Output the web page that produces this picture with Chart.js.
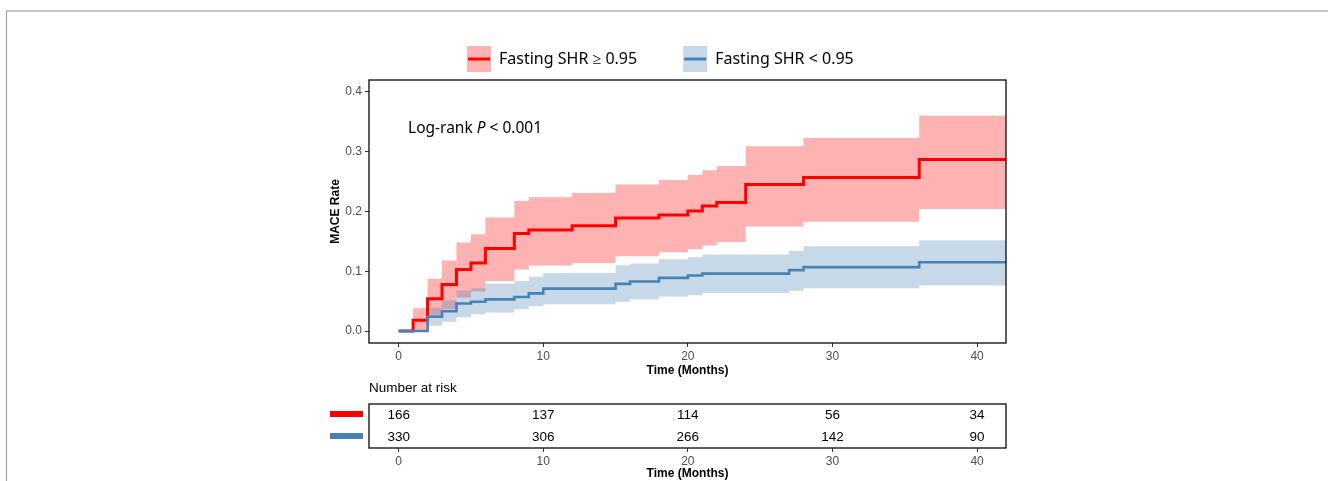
<!DOCTYPE html>
<html>
<head>
<meta charset="utf-8">
<script src="https://cdn.jsdelivr.net/npm/chart.js@4.4.1/dist/chart.umd.min.js"></script>
<style>
  html, body { margin: 0; padding: 0; background: #fff; }
  body { width: 1328px; height: 481px; position: relative; overflow: hidden; }
  #frame { position: absolute; left: 6px; top: 10px; width: 1400px; height: 600px;
           border-top: 2px solid #c6c6c6; border-left: 1px solid #999; }
  #main { position: absolute; left: 0; top: 0; }
  #risk { position: absolute; left: 0; top: 380px; }
</style>
</head>
<body>
<div id="frame"></div>
<canvas id="main" width="1328" height="390"></canvas>
<canvas id="risk" width="1328" height="101"></canvas>
<script>
// cumulative MACE rate, step values start at each time
const redTimes  = [0, 1, 2, 3, 4, 5, 6, 8, 9, 12, 15, 18, 20, 21, 22, 24, 28, 36, 42]
const redRate   = [0, 0.018, 0.054, 0.078, 0.103, 0.114, 0.138, 0.163, 0.169, 0.176, 0.189, 0.194, 0.201, 0.209, 0.215, 0.245, 0.257, 0.287, 0.287]
const redUpper  = [0, 0.038, 0.0875, 0.118, 0.148, 0.162, 0.19, 0.2176, 0.224, 0.231, 0.245, 0.2525, 0.261, 0.269, 0.276, 0.309, 0.323, 0.36, 0.36]
const redLower  = [0, 0, 0.023, 0.0365, 0.056, 0.066, 0.0836, 0.103, 0.1096, 0.114, 0.125, 0.132, 0.137, 0.143, 0.149, 0.175, 0.183, 0.204, 0.204]

const blueTimes = [0, 2, 3, 4, 5, 6, 8, 9, 10, 15, 16, 18, 20, 21, 27, 28, 36, 42]
const blueRate  = [0, 0.024, 0.033, 0.046, 0.049, 0.053, 0.057, 0.063, 0.071, 0.079, 0.083, 0.089, 0.093, 0.096, 0.102, 0.107, 0.115, 0.115]
const blueUpper = [0, 0.039, 0.0515, 0.068, 0.0714, 0.079, 0.0836, 0.091, 0.097, 0.11, 0.113, 0.12, 0.1235, 0.128, 0.1345, 0.142, 0.152, 0.152]
const blueLower = [0, 0.009, 0.0155, 0.023, 0.028, 0.031, 0.0365, 0.042, 0.045, 0.049, 0.053, 0.0576, 0.06, 0.0636, 0.0676, 0.0714, 0.0764, 0.0764]

const xTicks = [0, 10, 20, 30, 40]
const xTickLabels = ["0", "10", "20", "30", "40"]
const yTicks = [0, 0.1, 0.2, 0.3, 0.4]
const yTickLabels = ["0.0", "0.1", "0.2", "0.3", "0.4"]

const riskTimes = [0, 10, 20, 30, 40]
const riskRed  = [166, 137, 114, 56, 34]
const riskBlue = [330, 306, 266, 142, 90]

const groupLabels = ["Fasting SHR \u2265 0.95", "Fasting SHR < 0.95"]
const RED = "#ff0000"
const BLUE = "#4682b4"
const RED_BAND = "rgba(255,0,0,0.3)"
const BLUE_BAND = "rgba(70,130,180,0.3)"
const TICK_FONT = { family: "Liberation Sans", size: 12 }
const TITLE_FONT = { family: "Liberation Sans", size: 12, weight: "bold" }

const pts = (xs, ys) => xs.map((x, i) => ({ x: x, y: ys[i] }))

// "before" in Chart.js = horizontal first, then the jump at the next time
const stepLine = (label, data, color, width) => ({
  label: label, data: data, borderColor: color, borderWidth: width,
  stepped: "before", pointRadius: 0, fill: false
})
const bandEdge = (data, fillTo, bg) => ({
  data: data, borderWidth: 0, borderColor: "transparent", backgroundColor: bg,
  stepped: "before", pointRadius: 0, fill: fillTo
})

const xScale = (height, titlePad) => ({
  type: "linear", min: -2.05, max: 42,
  afterBuildTicks: (s) => { s.ticks = xTicks.map(v => ({ value: v })) },
  afterFit: (s) => { s.height = height },
  grid: { display: true, drawOnChartArea: false, drawTicks: true, tickLength: 4, tickColor: "#333", lineWidth: 1 },
  border: { display: false },
  ticks: { color: "#4d4d4d", font: TICK_FONT, padding: 2, maxRotation: 0,
           callback: (v) => xTickLabels[xTicks.indexOf(v)] },
  title: { display: true, text: "Time (Months)", color: "#000", font: TITLE_FONT, padding: { top: 0, bottom: titlePad } }
})

const boxPlugin = {
  id: "box",
  afterDatasetsDraw(chart) {
    const { ctx, chartArea: a } = chart
    ctx.save()
    ctx.strokeStyle = "#1a1a1a"
    ctx.lineWidth = 1.4
    ctx.strokeRect(a.left, a.top, a.right - a.left, a.bottom - a.top)
    ctx.restore()
  }
}

const annotationPlugin = {
  id: "annot",
  afterDatasetsDraw(chart) {
    const { ctx } = chart
    const x = chart.scales.x.getPixelForValue(0.65)
    const y = chart.scales.y.getPixelForValue(0.339)
    ctx.save()
    ctx.fillStyle = "#000"
    ctx.textBaseline = "middle"
    ctx.font = "15.5px 'Noto Sans'"
    let cx = x
    ctx.fillText("Log-rank ", cx, y)
    cx += ctx.measureText("Log-rank ").width
    ctx.font = "italic 15.5px 'Noto Sans'"
    ctx.fillText("P", cx, y)
    cx += ctx.measureText("P").width
    ctx.font = "15.5px 'Noto Sans'"
    ctx.fillText(" < 0.001", cx, y)
    ctx.restore()
  }
}

const legendPlugin = {
  id: "kmLegend",
  afterDraw(chart) {
    const { ctx } = chart
    const colors = [[RED_BAND, RED], [BLUE_BAND, BLUE]]
    let x = 467
    const top = 46, h = 26, w = 24
    ctx.save()
    ctx.font = "16px 'Noto Sans'"
    ctx.textBaseline = "middle"
    groupLabels.forEach((label, i) => {
      ctx.fillStyle = colors[i][0]
      ctx.fillRect(x, top, w, h)
      ctx.strokeStyle = colors[i][1]
      ctx.lineWidth = 3
      ctx.beginPath()
      ctx.moveTo(x + 1, top + h / 2)
      ctx.lineTo(x + w - 1, top + h / 2)
      ctx.stroke()
      ctx.fillStyle = "#000"
      ctx.fillText(label, x + w + 8, top + h / 2)
      x += w + 8 + ctx.measureText(label).width + 46
    })
    ctx.restore()
  }
}

new Chart(document.getElementById("main"), {
  type: "line",
  data: {
    datasets: [
      stepLine(groupLabels[1], pts(blueTimes, blueRate), BLUE, 2.6),
      stepLine(groupLabels[0], pts(redTimes, redRate), RED, 3),
      bandEdge(pts(blueTimes, blueLower), false, BLUE_BAND),
      bandEdge(pts(blueTimes, blueUpper), 2, BLUE_BAND),
      bandEdge(pts(redTimes, redLower), false, RED_BAND),
      bandEdge(pts(redTimes, redUpper), 4, RED_BAND)
    ]
  },
  options: {
    responsive: false,
    animation: false,
    events: [],
    layout: { padding: { left: 320, right: 322, top: 80, bottom: 0 } },
    plugins: { legend: { display: false }, tooltip: { enabled: false } },
    scales: {
      x: xScale(47, 12),
      y: {
        type: "linear", min: -0.02, max: 0.42,
        afterBuildTicks: (s) => { s.ticks = yTicks.map(v => ({ value: v })) },
        afterFit: (s) => { s.width = 49 },
        grid: { display: true, drawOnChartArea: false, drawTicks: true, tickLength: 4, tickColor: "#333" },
        border: { display: false },
        ticks: { color: "#4d4d4d", font: TICK_FONT, padding: 3,
                 callback: (v) => yTickLabels[yTicks.findIndex(t => Math.abs(t - v) < 1e-9)] },
        title: { display: true, text: "MACE Rate", color: "#000", font: TITLE_FONT, padding: { top: 8, bottom: 0 } }
      }
    }
  },
  plugins: [boxPlugin, annotationPlugin, legendPlugin]
})

// number at risk table
const riskPlugin = {
  id: "riskTable",
  afterDraw(chart) {
    const { ctx, chartArea: a } = chart
    const sx = chart.scales.x, sy = chart.scales.y
    const rows = [[riskRed, RED, 1.5], [riskBlue, BLUE, 0.5]]
    ctx.save()
    ctx.fillStyle = "#000"
    ctx.font = "13.5px 'Liberation Sans'"
    ctx.textBaseline = "middle"
    ctx.textAlign = "left"
    ctx.fillText("Number at risk", a.left, a.top - 16)
    ctx.font = "13.5px 'Liberation Sans'"
    ctx.textAlign = "center"
    rows.forEach(([vals, color, rowY]) => {
      const y = sy.getPixelForValue(rowY)
      vals.forEach((v, i) => ctx.fillText(String(v), sx.getPixelForValue(riskTimes[i]), y))
      ctx.strokeStyle = color
      ctx.lineWidth = 6
      ctx.beginPath()
      ctx.moveTo(a.left - 39, y - 1)
      ctx.lineTo(a.left - 6, y - 1)
      ctx.stroke()
    })
    ctx.restore()
  }
}

new Chart(document.getElementById("risk"), {
  type: "line",
  data: { datasets: [] },
  options: {
    responsive: false,
    animation: false,
    events: [],
    layout: { padding: { left: 369, right: 322, top: 24, bottom: 0 } },
    plugins: { legend: { display: false }, tooltip: { enabled: false } },
    scales: {
      x: xScale(33, 0),
      y: { type: "linear", min: 0, max: 2, display: false }
    }
  },
  plugins: [boxPlugin, riskPlugin]
})
</script>
</body>
</html>
